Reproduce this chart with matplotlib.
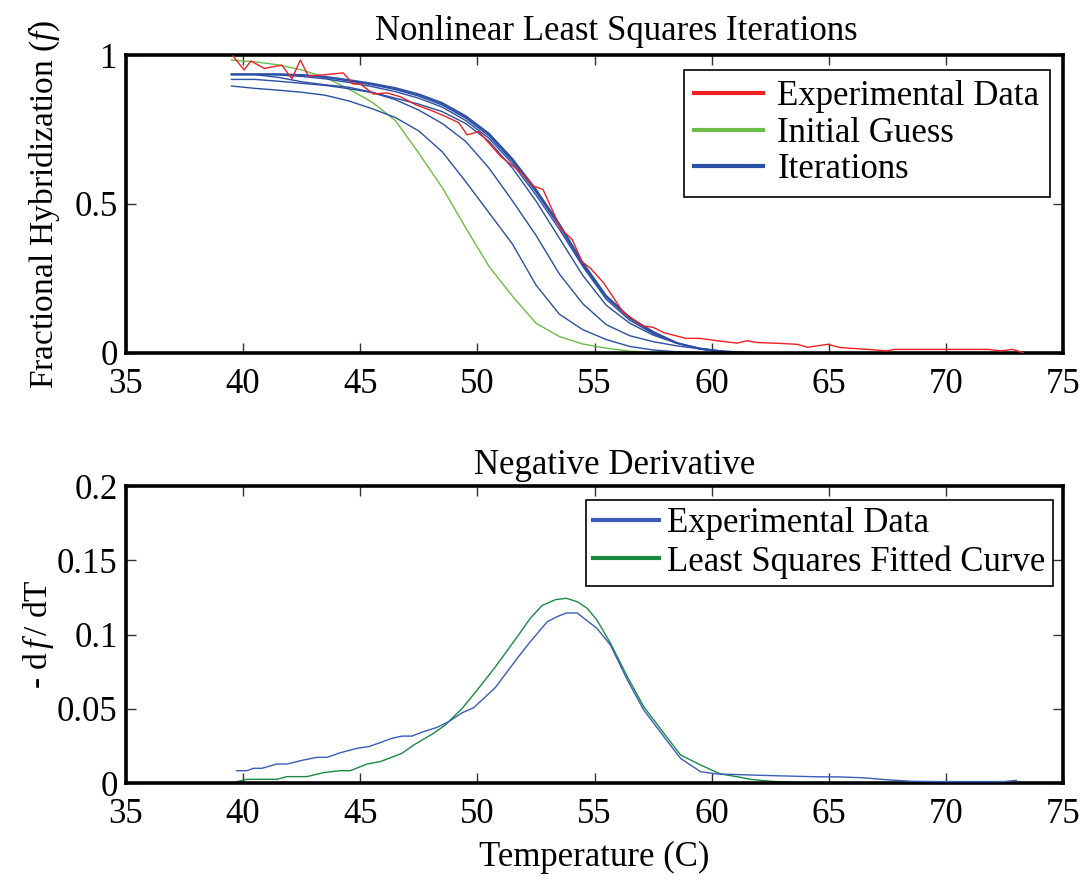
import matplotlib
matplotlib.use("Agg")
import matplotlib.pyplot as plt
from matplotlib.lines import Line2D

plt.rcParams['font.family'] = ['Liberation Serif', 'DejaVu Serif']
plt.rcParams['mathtext.fontset'] = 'custom'
plt.rcParams['mathtext.rm'] = 'Liberation Serif'
plt.rcParams['mathtext.it'] = 'Liberation Serif:italic'

# ---- top panel: experimental melting curve ----
t_exp = [39.56, 40.04, 40.33, 40.9, 41.65, 42.08, 42.44, 42.78, 43.4, 44.27,
         44.69, 45.0, 45.56, 46.14, 46.7, 47.4, 48.0, 48.6, 49.2, 49.56,
         50.06, 51.0, 51.84, 52.4, 52.8, 53.55, 54.05, 54.47, 54.83, 55.4,
         56.2, 57.04, 57.5, 57.96, 58.9, 59.5, 60.24, 61.1, 61.5, 61.95,
         62.95, 63.66, 64.1, 64.94, 65.5, 66.65, 67.5, 67.8, 69.5, 71.8,
         72.35, 72.85, 73.3]
f_exp = [0.997, 0.95, 0.98, 0.955, 0.966, 0.92, 0.983, 0.93, 0.933, 0.94,
         0.903, 0.903, 0.869, 0.873, 0.86, 0.832, 0.815, 0.795, 0.773, 0.732,
         0.743, 0.659, 0.608, 0.56, 0.549, 0.418, 0.38, 0.306, 0.284, 0.234,
         0.139, 0.091, 0.086, 0.068, 0.049, 0.049, 0.041, 0.033, 0.041, 0.035,
         0.032, 0.029, 0.019, 0.029, 0.018, 0.012, 0.007, 0.012, 0.012, 0.012,
         0.007, 0.012, 0.001]

# temperature grid used by the guess / iteration curves
t_fit = [39.5, 40.5, 41.5, 42.5, 43.5, 44.5, 45.5, 46.5, 47.5, 48.5,
         49.5, 50.5, 51.5, 52.5, 53.5, 54.5, 55.5, 56.5, 57.5, 58.5,
         59.5, 60.5, 61.5, 62.5, 63.5, 64.5, 65.5, 66.5, 67.5, 68.5,
         69.5, 70.5, 71.5, 72.5, 73.5]

f_guess = [0.983, 0.977, 0.967, 0.95, 0.925, 0.886, 0.842, 0.78, 0.67, 0.555,
           0.42, 0.29, 0.19, 0.10, 0.055, 0.03, 0.016, 0.006, 0.002, 0.001,
           0, 0, 0, 0, 0, 0, 0, 0, 0, 0, 0, 0, 0, 0, 0]

iter1 = [0.896, 0.888, 0.882, 0.875, 0.865, 0.846, 0.82, 0.79, 0.745, 0.675,
         0.575, 0.47, 0.365, 0.228, 0.13, 0.078, 0.045, 0.022, 0.01, 0.004,
         0.001, 0, 0, 0, 0, 0, 0, 0, 0, 0, 0, 0, 0, 0, 0]
iter2 = [0.918, 0.918, 0.912, 0.905, 0.898, 0.887, 0.874, 0.85, 0.815, 0.77,
         0.71, 0.62, 0.51, 0.395, 0.265, 0.165, 0.095, 0.058, 0.038, 0.024,
         0.014, 0.006, 0.002, 0, 0, 0, 0, 0, 0, 0, 0, 0, 0, 0, 0]
iter3 = [0.934, 0.934, 0.925, 0.91, 0.9, 0.892, 0.875, 0.855, 0.835, 0.81,
         0.77, 0.71, 0.62, 0.51, 0.385, 0.26, 0.16, 0.10, 0.06, 0.033,
         0.016, 0.006, 0.002, 0, 0, 0, 0, 0, 0, 0, 0, 0, 0, 0, 0]
iter4 = [0.934, 0.934, 0.933, 0.928, 0.92, 0.908, 0.894, 0.877, 0.855, 0.825,
         0.78, 0.72, 0.635, 0.53, 0.415, 0.29, 0.18, 0.11, 0.065, 0.033,
         0.015, 0.005, 0.001, 0, 0, 0, 0, 0, 0, 0, 0, 0, 0, 0, 0]
iter5 = [0.935, 0.935, 0.935, 0.932, 0.925, 0.913, 0.9, 0.884, 0.862, 0.832,
         0.788, 0.728, 0.643, 0.54, 0.425, 0.296, 0.187, 0.116, 0.068, 0.033,
         0.013, 0.003, 0, 0, 0, 0, 0, 0, 0, 0, 0, 0, 0, 0, 0]
iter6 = [0.935, 0.935, 0.935, 0.933, 0.926, 0.915, 0.902, 0.887, 0.866, 0.836,
         0.792, 0.733, 0.648, 0.545, 0.43, 0.30, 0.19, 0.118, 0.07, 0.034,
         0.013, 0.003, 0, 0, 0, 0, 0, 0, 0, 0, 0, 0, 0, 0, 0]
iter7 = [0.936, 0.936, 0.936, 0.934, 0.928, 0.917, 0.905, 0.89, 0.869, 0.84,
         0.796, 0.737, 0.652, 0.55, 0.434, 0.304, 0.193, 0.12, 0.072, 0.035,
         0.014, 0.003, 0, 0, 0, 0, 0, 0, 0, 0, 0, 0, 0, 0, 0]
iterations = [iter1, iter2, iter3, iter4, iter5, iter6, iter7]

# ---- bottom panel: negative derivative ----
t_der = [39.73, 40.16, 40.44, 40.8, 41.44, 41.87, 42.58, 43.15, 43.58, 44.15,
         44.86, 45.36, 45.85, 46.35, 46.78, 47.2, 47.7, 48.28, 48.77, 49.35,
         49.84, 50.77, 51.7, 52.26, 52.98, 53.4, 53.8, 54.26, 55.1, 55.68,
         56.4, 57.1, 57.96, 58.67, 59.53, 60.24, 61.67, 62.5, 63.5, 64.5,
         65.5, 66.5, 67.5, 68.5, 69.5, 70.5, 71.5, 72.5, 73.0]
d_exp = [0.0083, 0.0083, 0.0099, 0.0099, 0.0128, 0.0128, 0.0155, 0.0173, 0.0173, 0.0204,
         0.0234, 0.0245, 0.0272, 0.0301, 0.0316, 0.0316, 0.0346, 0.0375, 0.0413, 0.0473,
         0.0507, 0.0644, 0.084, 0.0952, 0.1086, 0.112, 0.1145, 0.1145, 0.1042, 0.0929,
         0.0694, 0.0492, 0.0312, 0.0166, 0.0076, 0.0061, 0.0054, 0.005, 0.0046, 0.0042,
         0.0041, 0.0035, 0.0022, 0.0012, 0.001, 0.001, 0.001, 0.001, 0.0018]

t_lsq = [39.73, 40.16, 41.44, 41.87, 42.72, 43.43, 44.15, 44.57, 45.29, 45.85,
         46.78, 47.28, 48.13, 48.63, 49.35, 49.99, 50.77, 51.7, 52.26, 52.76,
         53.33, 53.8, 54.26, 54.69, 55.1, 55.68, 56.4, 57.1, 57.96, 58.67,
         59.53, 60.38, 61.1, 61.67, 62.5, 63.5, 64.5, 66.0, 68.0, 70.0,
         72.0, 73.0]
d_lsq = [0.0009, 0.0025, 0.0025, 0.0043, 0.0043, 0.007, 0.0083, 0.0083, 0.0128, 0.0144,
         0.02, 0.0256, 0.0335, 0.0391, 0.0503, 0.0626, 0.0783, 0.0985, 0.111, 0.1195,
         0.1235, 0.1244, 0.1221, 0.1176, 0.1098, 0.0941, 0.0716, 0.0514, 0.0335, 0.0189,
         0.0121, 0.0061, 0.0042, 0.0025, 0.0012, 0.0004, 0.0001, 0, 0, 0,
         0, 0]

red = '#ee2024'
light_green = '#6cbd45'
blue = '#2b4fa4'
blue2 = '#3b5cb8'
dark_green = '#1a8a43'

FS = 25

fig = plt.figure(figsize=(10.8, 8.8), dpi=100)
ax1 = fig.add_axes([0.1167, 0.5989, 0.8676, 0.3386])
ax2 = fig.add_axes([0.1167, 0.1102, 0.8676, 0.3375])

for ax in (ax1, ax2):
    ax.set_xlim(35, 75)
    ax.set_xticks([35, 40, 45, 50, 55, 60, 65, 70, 75])
    ax.tick_params(direction='in', top=True, right=True, length=7, width=1,
                   colors='#333333', labelcolor='black', labelsize=FS)
    ax.tick_params(axis='x', pad=11)
    ax.tick_params(axis='y', pad=6)
    for s in ax.spines.values():
        s.set_linewidth(2.6)
        s.set_color('black')

# top
ax1.plot(t_exp, f_exp, color=red, lw=1.0, zorder=3)
ax1.plot(t_fit, f_guess, color=light_green, lw=1.0, zorder=2)
for it in iterations:
    ax1.plot(t_fit, it, color=blue, lw=1.0, zorder=2)
ax1.set_ylim(0, 1)
ax1.set_yticks([0, 0.5, 1])
ax1.set_yticklabels(['0', '0.5', '1'])
ax1.set_ylabel(r'Fractional Hybridization ($\it{f}$)', fontsize=24, labelpad=9)
ax1.text(0.523, 1.025, 'Nonlinear Least Squares Iterations', transform=ax1.transAxes,
         ha='center', va='bottom', fontsize=FS)
h1 = [Line2D([], [], color=red, lw=3),
      Line2D([], [], color=light_green, lw=3),
      Line2D([], [], color=blue, lw=3)]
leg1 = ax1.legend(h1, ['Experimental Data', 'Initial Guess', 'Iterations'],
                  loc='upper right', bbox_to_anchor=(0.986, 0.95), fontsize=FS,
                  frameon=True, fancybox=False, edgecolor='black', framealpha=1,
                  handlelength=2.0, handletextpad=0.4, labelspacing=0.1,
                  borderpad=0.3, borderaxespad=0)
leg1.get_frame().set_linewidth(1.2)

# bottom
ax2.plot(t_der, d_exp, color=blue2, lw=1.0, zorder=3)
ax2.plot(t_lsq, d_lsq, color=dark_green, lw=1.0, zorder=2)
ax2.set_ylim(0, 0.2)
ax2.set_yticks([0, 0.05, 0.1, 0.15, 0.2])
ax2.set_yticklabels(['0', '0.05', '0.1', '0.15', '0.2'])
ax2.set_ylabel(r'- d$\,\it{f}\,$/ dT', fontsize=24, labelpad=1)
ax2.set_xlabel('Temperature (C)', fontsize=FS, labelpad=7)
ax2.text(0.521, 1.015, 'Negative Derivative', transform=ax2.transAxes,
         ha='center', va='bottom', fontsize=FS)
h2 = [Line2D([], [], color=blue2, lw=3),
      Line2D([], [], color=dark_green, lw=3)]
leg2 = ax2.legend(h2, ['Experimental Data', 'Least Squares Fitted Curve'],
                  loc='upper right', bbox_to_anchor=(0.989, 0.953), fontsize=FS,
                  frameon=True, fancybox=False, edgecolor='black', framealpha=1,
                  handlelength=1.9, handletextpad=0.25, labelspacing=0.15,
                  borderpad=0.2, borderaxespad=0)
leg2.get_frame().set_linewidth(1.2)

fig.savefig('out.png', dpi=100)
